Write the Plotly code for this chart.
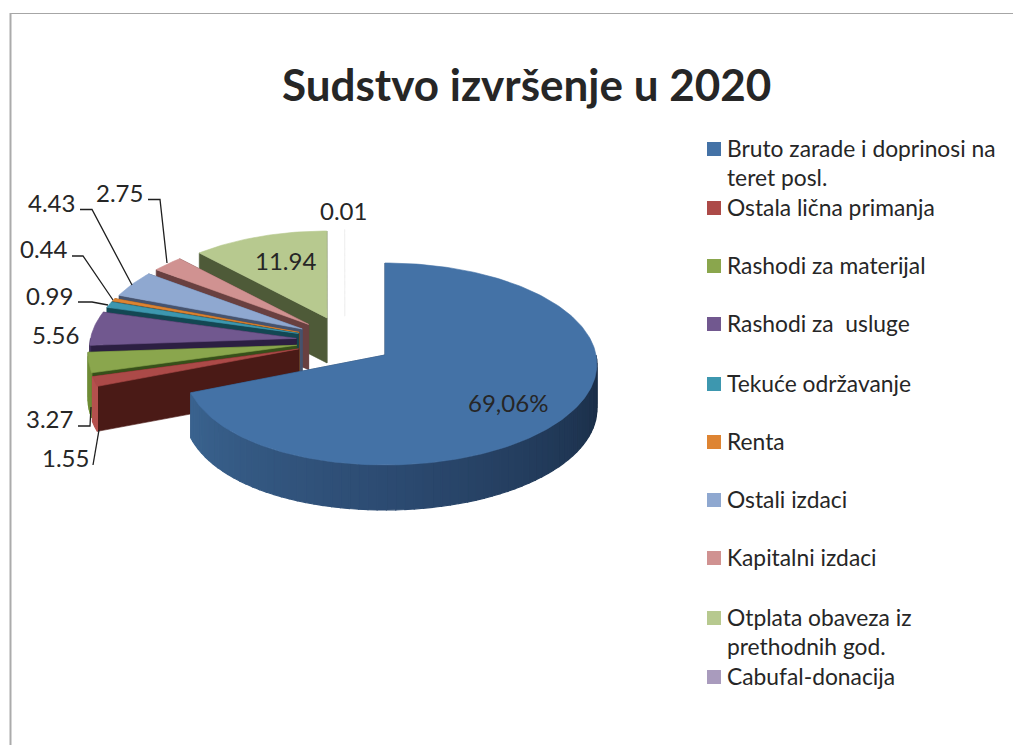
import math
import plotly.graph_objects as go

# ---------- data ----------
categories = ["Bruto zarade i doprinosi na<br>teret posl.", "Ostala lična primanja", "Rashodi za materijal",
              "Rashodi za  usluge", "Tekuće održavanje", "Renta", "Ostali izdaci", "Kapitalni izdaci",
              "Otplata obaveza iz<br>prethodnih god.", "Cabufal-donacija"]
values = [69.06, 1.55, 3.27, 5.56, 0.99, 0.44, 4.43, 2.75, 11.94, 0.01]
value_labels = ["69,06%", "1.55", "3.27", "5.56", "0.99", "0.44", "4.43", "2.75", "11.94", "0.01"]
title_text = "Sudstvo izvršenje u 2020"

# ---------- styles ----------
top_colors = ["#4472A6", "#AC4A48", "#8AA64D", "#71588F", "#3D97AF", "#DE8432", "#8FA8D0", "#D09291", "#B7C98F", "#EDEDED"]
face_colors = ["#1F3A5C", "#4A1A16", "#37501A", "#2C1F42", "#134753", "#7A4414", "#46536E", "#694040", "#4E5A38", "#FFFFFF"]
rim_ramp = {0: ["#3F6B99", "#2C4B72", "#182A42"], 1: ["#B5514E"], 2: ["#6E8C35"], 3: ["#3A2A55"], 4: ["#1F5F70"],
            5: ["#8E5018"], 6: ["#56688A"], 7: ["#7D5050"], 8: ["#5F6E44"], 9: ["#FFFFFF"]}
CX, CY, EX, EY = 344.8, 341.0, 48.7, 24.8     # pie centre and explosion, px
R, S, P, DEPTH, K = 211.0, 100.2, 0.0891, 45.0, 0.037
MAIN_LEFT_TRIM = 0.05
TEXT = "#262626"
FONT = "Lato"


def hexmix(a, b, f):
    ca = [int(a[i:i + 2], 16) for i in (1, 3, 5)]
    cb = [int(b[i:i + 2], 16) for i in (1, 3, 5)]
    return "#%02X%02X%02X" % tuple(round(x + (y - x) * f) for x, y in zip(ca, cb))


def ramp(colors, f):
    if len(colors) == 1:
        return colors[0]
    pos = f * (len(colors) - 1)
    i = min(int(pos), len(colors) - 2)
    return hexmix(colors[i], colors[i + 1], pos - i)


fig = go.Figure()


def poly(xs, ys, color, lw=0.6):
    fig.add_trace(go.Scatter(x=xs, y=ys, mode="lines", fill="toself", fillcolor=color,
                             line=dict(color=color, width=lw), hoverinfo="skip", showlegend=False))


total = sum(values)
cum = [0.0]
for v in values:
    cum.append(cum[-1] + v)


def geometry(i):
    t0 = cum[i] / total * 2 * math.pi
    t1 = cum[i + 1] / total * 2 * math.pi
    tm = (t0 + t1) / 2
    ax = CX + EX * math.sin(tm)
    ay = CY - EY * math.cos(tm)
    scale = 1 - K * (math.cos(tm) + 0.564)

    def rim(t):
        w = 1 + P * math.cos(t)
        s = math.sin(t)
        trim = 1 - MAIN_LEFT_TRIM * s * s if (i == 0 and s < 0) else 1
        return ax + scale * R * s * trim / w, ay - scale * S * math.cos(t) / w
    return t0, t1, ax, ay, rim


def draw_slice(i):
    t0, t1, ax, ay, rim = geometry(i)
    # radial faces
    for t in (t1, t0):
        x, y = rim(t)
        poly([ax, x, x, ax, ax], [ay, y, y + DEPTH, ay + DEPTH, ay], face_colors[i])
    # outer wall, front half only
    lo, hi = max(t0, math.pi / 2), min(t1, 3 * math.pi / 2)
    if hi > lo:
        n = max(1, int((hi - lo) / 0.04))
        for k in range(n):
            a = lo + (hi - lo) * k / n
            b = lo + (hi - lo) * (k + 1) / n
            xa, ya = rim(a)
            xb, yb = rim(b)
            f = (3 * math.pi / 2 - (a + b) / 2) / math.pi
            poly([xa, xb, xb, xa, xa], [ya, yb, yb + DEPTH, ya + DEPTH, ya], ramp(rim_ramp[i], f), lw=1.2)
    # top
    n = max(2, int((t1 - t0) / 0.02))
    pts = [rim(t0 + (t1 - t0) * k / n) for k in range(n + 1)]
    poly([ax] + [p[0] for p in pts] + [ax], [ay] + [p[1] for p in pts] + [ay], top_colors[i])


# painter's order: rear slices first, the large front slice last
for i in [9, 8, 7, 6, 5, 4, 3, 2, 1, 0]:
    draw_slice(i)

# leader lines
leaders = [
    ([80, 92, 132], [209.5, 209.5, 285]),
    ([148, 160, 167], [199.5, 199.5, 263]),
    ([72, 83, 113], [256, 256, 300]),
    ([78, 92, 108], [302, 302, 305]),
    ([78, 90, 91], [426, 426, 407]),
    ([93, 99], [465, 430]),
]
for lx, ly in leaders:
    fig.add_trace(go.Scatter(x=lx, y=ly, mode="lines", line=dict(color="#1F1F1F", width=1.3),
                             hoverinfo="skip", showlegend=False))

label_pos = [(508, 402), (65, 457), (49, 418), (55, 334), (49, 295), (43.5, 248), (51, 202), (119, 192), (285, 260), (343, 210)]
annotations = []
for txt, (x, y) in zip(value_labels, label_pos):
    annotations.append(dict(x=x, y=y, xref="x", yref="y", text=txt, showarrow=False, xanchor="center", yanchor="middle",
                            font=dict(family=FONT, size=24, color=TEXT)))

# legend
legend_y = [149, 208, 266, 324, 384, 442, 500, 558, 618, 677]
legend_colors = ["#4472A6", "#AC4A48", "#8AA64D", "#71588F", "#3D97AF", "#DE8432", "#8FA8D0", "#D09291", "#B7C98F", "#A99BBD"]
fig.add_trace(go.Scatter(x=[714] * len(legend_y), y=legend_y, mode="markers",
                         marker=dict(symbol="square", size=14, color=legend_colors),
                         hoverinfo="skip", showlegend=False))
for cat, y in zip(categories, legend_y):
    for j, part in enumerate(cat.split("<br>")):
        annotations.append(dict(x=724.5, y=y - 1 + 29 * j, xref="x", yref="y", text=part, showarrow=False,
                                xanchor="left", yanchor="middle",
                                font=dict(family=FONT, size=22.8, color=TEXT)))

annotations.append(dict(x=526.5, y=83.5, xref="x", yref="y", text="<b>" + title_text + "</b>", showarrow=False,
                        xanchor="center", yanchor="middle", font=dict(family=FONT, size=44, color=TEXT)))

shapes = [
    dict(type="line", xref="x", yref="y", x0=10, x1=1013, y0=13.5, y1=13.5, line=dict(color="#A6A6A6", width=1)),
    dict(type="line", xref="x", yref="y", x0=10.5, x1=10.5, y0=13, y1=745, line=dict(color="#ABABAB", width=2)),
]

fig.update_layout(
    width=1013, height=745, margin=dict(l=0, r=0, t=0, b=0), autosize=False,
    paper_bgcolor="white", plot_bgcolor="white", showlegend=False,
    xaxis=dict(range=[0, 1013], visible=False, fixedrange=True),
    yaxis=dict(range=[745, 0], visible=False, fixedrange=True),
    annotations=annotations, shapes=shapes,
)
fig.write_html("out.html", config={"displayModeBar": False},
               post_script="document.body.style.margin='0';document.body.style.overflow='hidden';")
